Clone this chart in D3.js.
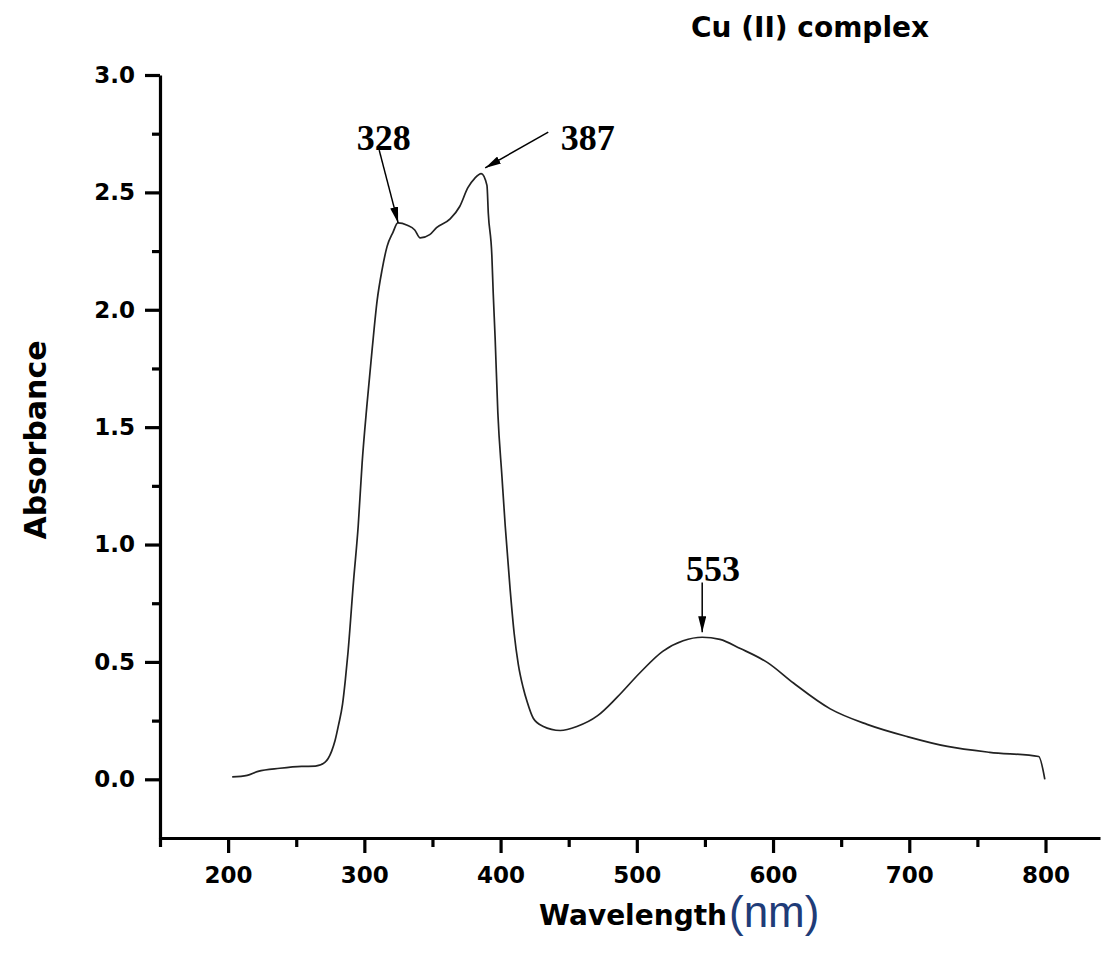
<!DOCTYPE html>
<html>
<head>
<meta charset="utf-8">
<script src="https://cdn.jsdelivr.net/npm/d3@7"></script>
<style>
  body { margin: 0; background: #fff; }
  svg { display: block; }
  .tick text { font-family: "DejaVu Sans", sans-serif; font-weight: bold; font-size: 23px; fill: #000; }
</style>
</head>
<body>
<div id="drawingArea"></div>
<script>
// spectrum
var wavelength = [
  203, 214, 222, 238, 254, 264, 271, 276, 278.5, 281, 284, 286, 288, 292, 295.5, 298.4,
  302, 305.7, 309.4, 313, 316.7, 321, 324.6, 331.5, 337, 341, 348, 353, 363, 370,
  376, 381, 385.8, 390, 391, 393.6, 394.6, 396, 398, 401, 403.4, 407, 410, 413,
  416.6, 419.5, 424, 431, 443.8, 456, 471, 485.6, 502.5, 519, 534, 548, 561, 576,
  596, 615, 642, 669, 698.5, 728, 759, 795, 799.5
];
var absorbance = [
  0.010, 0.017, 0.034, 0.047, 0.055, 0.056, 0.072, 0.12, 0.165, 0.23, 0.32, 0.42, 0.54, 0.84, 1.08, 1.35,
  1.60, 1.83, 2.04, 2.17, 2.27, 2.33, 2.37, 2.36, 2.34, 2.306, 2.32, 2.35, 2.387, 2.44,
  2.52, 2.56, 2.58, 2.53, 2.41, 2.23, 2.07, 1.88, 1.56, 1.29, 1.08, 0.81, 0.62, 0.49,
  0.39, 0.33, 0.26, 0.226, 0.208, 0.225, 0.27, 0.35, 0.455, 0.545, 0.59, 0.605, 0.596, 0.557,
  0.497, 0.41, 0.30, 0.234, 0.182, 0.14, 0.115, 0.097, 0.0
];

var xMajor = [200, 300, 400, 500, 600, 700, 800];
var xMinor = [150, 250, 350, 450, 550, 650, 750];
var yMajor = [0.0, 0.5, 1.0, 1.5, 2.0, 2.5, 3.0];
var yMinor = [0.25, 0.75, 1.25, 1.75, 2.25, 2.75];

// peak labels: arrow from (fromX,fromY) to tip (x,y), text at (tx,ty)
var peakLabels = ["328", "387", "553"];
var peakX     = [324.8, 388.7, 548];
var peakY     = [2.37, 2.604, 0.626];
var arrowFromX = [310.9, 435, 548];
var arrowFromY = [2.68, 2.757, 0.838];
var labelX    = [314.2, 464, 556];
var labelY    = [2.681, 2.681, 0.843];

var W = 1105, H = 954;

var svg = d3.select("#drawingArea").append("svg")
    .attr("width", W)
    .attr("height", H);

var x = d3.scaleLinear().domain([150, 840]).range([160, 1100]);
var y = d3.scaleLinear().domain([-0.25, 3.0]).range([838, 75]);

// axes
var gx = svg.append("g").attr("transform", "translate(0," + y(-0.25) + ")");
gx.call(d3.axisBottom(x).tickValues(xMajor).tickSize(15).tickSizeOuter(0).tickPadding(14)
    .tickFormat(d3.format("d")));
var gxm = svg.append("g").attr("transform", "translate(0," + y(-0.25) + ")");
gxm.call(d3.axisBottom(x).tickValues(xMinor).tickSize(9).tickSizeOuter(0).tickFormat(""));

var gy = svg.append("g").attr("transform", "translate(" + x(150) + ",0)");
gy.call(d3.axisLeft(y).tickValues(yMajor).tickSize(15).tickSizeOuter(0).tickPadding(10)
    .tickFormat(d3.format(".1f")));
var gym = svg.append("g").attr("transform", "translate(" + x(150) + ",0)");
gym.call(d3.axisLeft(y).tickValues(yMinor).tickSize(8).tickSizeOuter(0).tickFormat(""));

gxm.select(".domain").remove();
gym.select(".domain").remove();
svg.selectAll(".domain").attr("stroke", "#000").attr("stroke-width", 3.2);
svg.selectAll(".tick line").attr("stroke", "#000").attr("stroke-width", 3.2);

// spectrum line
var pts = wavelength.map(function(w, i) { return [w, absorbance[i]]; });
var line = d3.line()
    .x(function(d) { return x(d[0]); })
    .y(function(d) { return y(d[1]); })
    .curve(d3.curveMonotoneX);

svg.append("path")
    .datum(pts)
    .attr("fill", "none")
    .attr("stroke", "#222")
    .attr("stroke-width", 1.7)
    .attr("d", line);

// arrows
svg.append("defs").append("marker")
    .attr("id", "head")
    .attr("markerUnits", "userSpaceOnUse")
    .attr("viewBox", "0 0 16 8")
    .attr("refX", 16).attr("refY", 4)
    .attr("markerWidth", 16).attr("markerHeight", 8)
    .attr("orient", "auto")
  .append("path")
    .attr("d", "M0,0 L16,4 L0,8 Z")
    .attr("fill", "#000");

peakLabels.forEach(function(lab, i) {
    svg.append("line")
        .attr("x1", x(arrowFromX[i])).attr("y1", y(arrowFromY[i]))
        .attr("x2", x(peakX[i])).attr("y2", y(peakY[i]))
        .attr("stroke", "#000")
        .attr("stroke-width", 1.5)
        .attr("marker-end", "url(#head)");
    svg.append("text")
        .attr("x", x(labelX[i])).attr("y", y(labelY[i]))
        .attr("text-anchor", "middle")
        .style("font-family", "'Liberation Serif', serif")
        .style("font-weight", "bold")
        .style("font-size", "36px")
        .text(lab);
});

// titles
svg.append("text")
    .attr("x", 810).attr("y", 37)
    .attr("text-anchor", "middle")
    .style("font-family", "'DejaVu Sans', sans-serif")
    .style("font-weight", "bold")
    .style("font-size", "28px")
    .text("Cu (II) complex");

svg.append("text")
    .attr("transform", "translate(46,440) rotate(-90)")
    .attr("text-anchor", "middle")
    .style("font-family", "'DejaVu Sans', sans-serif")
    .style("font-weight", "bold")
    .style("font-size", "30px")
    .text("Absorbance");

svg.append("text")
    .attr("x", 727).attr("y", 925)
    .attr("text-anchor", "end")
    .style("font-family", "'DejaVu Sans', sans-serif")
    .style("font-weight", "bold")
    .style("font-size", "28px")
    .text("Wavelength");

svg.append("text")
    .attr("x", 729).attr("y", 927)
    .attr("text-anchor", "start")
    .style("font-family", "'Liberation Sans', sans-serif")
    .style("font-size", "44px")
    .style("fill", "#1f3c78")
    .text("(nm)");
</script>
</body>
</html>
